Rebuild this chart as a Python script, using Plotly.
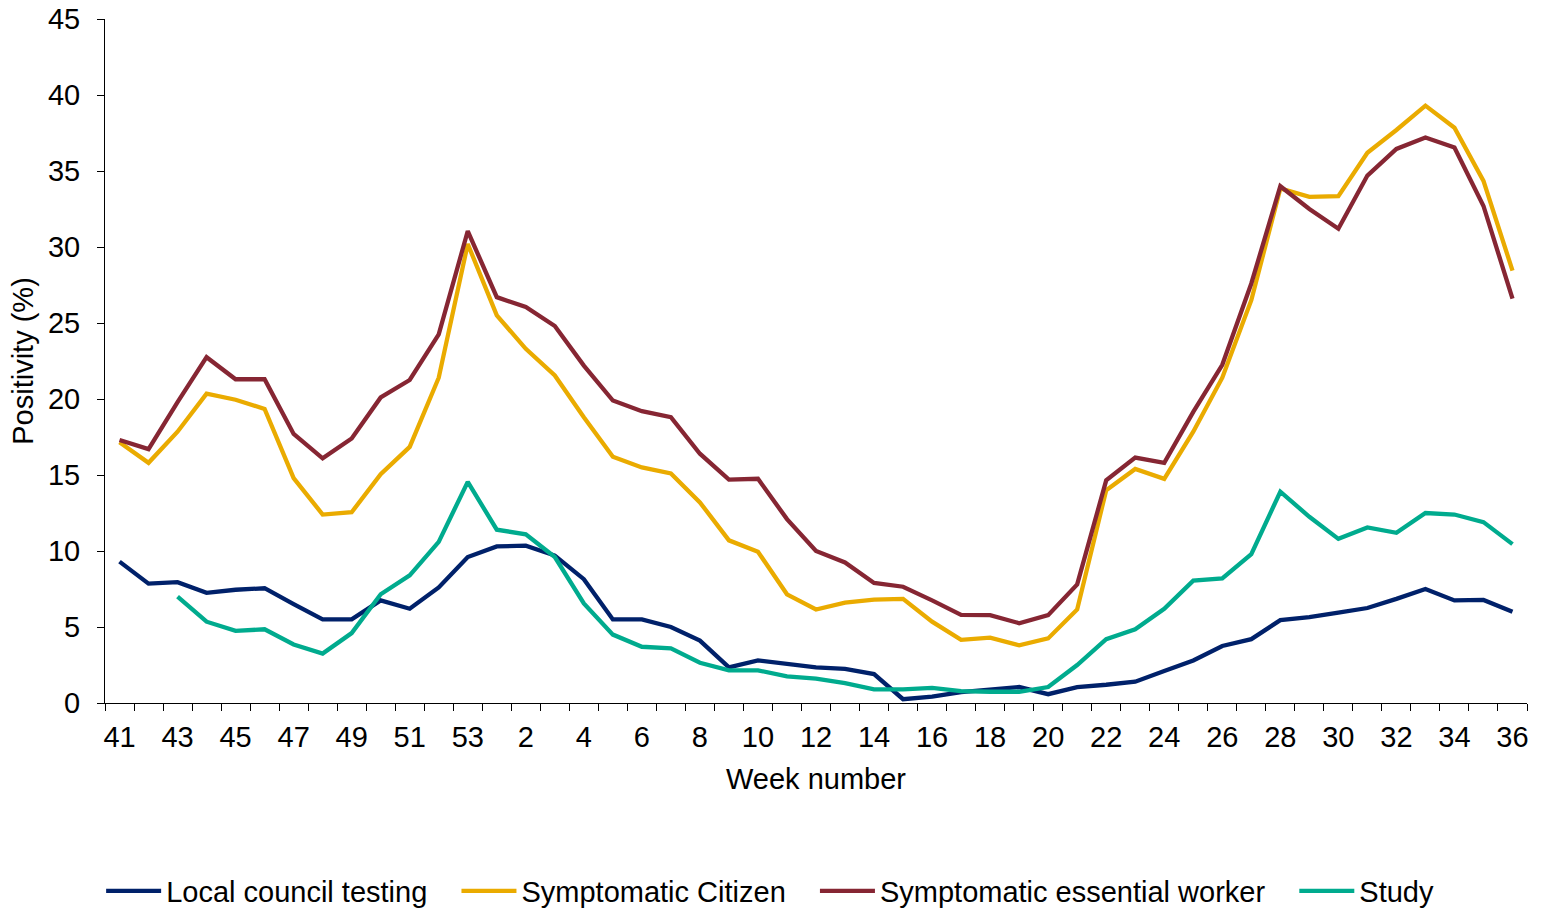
import plotly.graph_objects as go

weeks = [41, 42, 43, 44, 45, 46, 47, 48, 49, 50, 51, 52, 53,
         1, 2, 3, 4, 5, 6, 7, 8, 9, 10, 11, 12, 13, 14, 15, 16, 17, 18, 19, 20,
         21, 22, 23, 24, 25, 26, 27, 28, 29, 30, 31, 32, 33, 34, 35, 36]

local_council = [9.3, 7.85, 7.95, 7.25, 7.45, 7.55, 6.5, 5.5, 5.5, 6.75, 6.2, 7.6, 9.6,
                 10.3, 10.35, 9.7, 8.15, 5.5, 5.5, 5.0, 4.1, 2.35, 2.8, 2.55, 2.35, 2.25, 1.9,
                 0.25, 0.42, 0.72, 0.88, 1.05, 0.58, 1.05, 1.2, 1.4, 2.1, 2.8, 3.75, 4.2,
                 5.45, 5.65, 5.95, 6.25, 6.85, 7.5, 6.75, 6.78, 6.0]

symptomatic_citizen = [17.15, 15.8, 17.85, 20.35, 19.95, 19.35, 14.8, 12.4, 12.55, 15.05, 16.85, 21.4, 30.2,
                       25.5, 23.3, 21.55, 18.8, 16.2, 15.5, 15.1, 13.2, 10.7, 9.95, 7.15, 6.15, 6.6, 6.8,
                       6.85, 5.35, 4.15, 4.3, 3.8, 4.25, 6.15, 14.0, 15.4, 14.75, 17.85,
                       21.4, 26.5, 33.85, 33.3, 33.35, 36.2, 37.7, 39.3, 37.85, 34.35, 28.45]

symptomatic_essential = [17.3, 16.7, 19.8, 22.75, 21.3, 21.3, 17.7, 16.1, 17.4, 20.1, 21.25, 24.25, 31.05,
                         26.7, 26.05, 24.8, 22.2, 19.9, 19.2, 18.8, 16.4, 14.7, 14.75, 12.1, 10.0, 9.25, 7.9,
                         7.65, 6.75, 5.8, 5.78, 5.25, 5.78, 7.8, 14.65, 16.15, 15.8, 19.15,
                         22.25, 27.6, 34.0, 32.5, 31.2, 34.7, 36.45, 37.2, 36.55, 32.7, 26.6]

study = [None, None, 7.0, 5.35, 4.75, 4.85, 3.85, 3.25, 4.6, 7.15, 8.4, 10.6, 14.55,
         11.4, 11.1, 9.6, 6.55, 4.5, 3.7, 3.6, 2.65, 2.15, 2.15, 1.75, 1.6, 1.3, 0.9,
         0.9, 1.0, 0.78, 0.74, 0.74, 1.05, 2.5, 4.2, 4.85, 6.2, 8.05, 8.2, 9.8,
         13.9, 12.25, 10.8, 11.55, 11.2, 12.5, 12.4, 11.9, 10.45]

series_names = ["Local council testing", "Symptomatic Citizen",
                "Symptomatic essential worker", "Study"]
series_colors = ["#00216A", "#EAAB00", "#862633", "#00AB8E"]
series_values = [local_council, symptomatic_citizen, symptomatic_essential, study]

x_cats = [str(w) for w in weeks]
tick_text = [str(w) if i % 2 == 0 else "" for i, w in enumerate(weeks)]

FONT = "Liberation Sans, Arial, sans-serif"
FS = 29
PAD = "\u00a0\u00a0\u00a0"  # extra spacing between legend entries

fig = go.Figure()
n = len(series_names)
for k, (name, color, vals) in enumerate(zip(series_names, series_colors, series_values)):
    fig.add_trace(go.Scatter(
        x=x_cats, y=vals, name=name + (PAD if k < n - 1 else ""), mode="lines",
        line=dict(color=color, width=4.3),
        connectgaps=False,
        hovertemplate=name + "<br>Week %{x}: %{y}%<extra></extra>",
    ))

fig.update_layout(
    width=1548, height=909,
    paper_bgcolor="white", plot_bgcolor="white",
    font=dict(family=FONT, size=FS, color="#000000"),
    margin=dict(l=105, r=21, t=19, b=206),
    showlegend=True,
    legend=dict(orientation="h", xref="container", yref="container",
                x=0.4975, xanchor="center", y=0.0198, yanchor="middle",
                font=dict(family=FONT, size=FS, color="#000000"),
                itemwidth=55, traceorder="normal"),
    xaxis=dict(
        type="category", categoryorder="array", categoryarray=x_cats,
        tickmode="array", tickvals=x_cats, ticktext=tick_text,
        tickson="boundaries", ticks="outside", ticklen=7, tickcolor="#000000",
        tickangle=0, automargin=False,
        showline=True, linecolor="#000000", linewidth=1,
        showgrid=False, zeroline=False,
        range=[-0.5, len(x_cats) - 0.5],
        ticklabelstandoff=8,
        tickfont=dict(family=FONT, size=FS, color="#000000"),
        title=dict(text="Week number", font=dict(family=FONT, size=FS, color="#000000"), standoff=16),
    ),
    yaxis=dict(
        range=[0, 45], dtick=5, tick0=0,
        ticks="outside", ticklen=7, tickcolor="#000000",
        automargin=False, ticklabeloverflow="allow",
        showline=True, linecolor="#000000", linewidth=1,
        showgrid=False, zeroline=False,
        ticklabelstandoff=11,
        tickfont=dict(family=FONT, size=FS, color="#000000"),
        title=dict(text="Positivity (%)", font=dict(family=FONT, size=FS, color="#000000"), standoff=5),
    ),
)

# remove the browser's default 8px page margin so the figure fills the window exactly
fig.write_html("out.html", config={"displayModeBar": False},
               post_script="document.body.style.margin='0';")
